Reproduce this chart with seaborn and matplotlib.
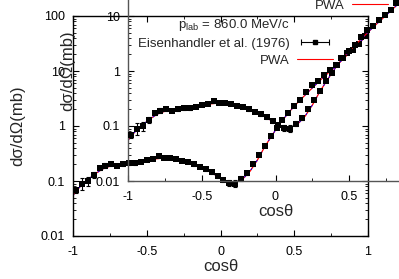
import numpy as np
import pandas as pd
import matplotlib
matplotlib.use("Agg")
import matplotlib.pyplot as plt
import seaborn as sns
from matplotlib.lines import Line2D
from matplotlib.legend_handler import HandlerLine2D, HandlerTuple
from matplotlib.ticker import LogLocator, MultipleLocator, NullFormatter

# Eisenhandler et al. (1976), p_lab = 860 MeV/c
exp_cos = [-0.98, -0.94, -0.90, -0.86, -0.82, -0.78, -0.74, -0.70, -0.66, -0.62,
           -0.58, -0.54, -0.50, -0.46, -0.42, -0.38, -0.34, -0.30, -0.26, -0.22,
           -0.18, -0.14, -0.10, -0.06, -0.02, 0.02, 0.06, 0.10, 0.14, 0.18,
           0.22, 0.26, 0.30, 0.34, 0.38, 0.42, 0.46, 0.50, 0.54, 0.58,
           0.62, 0.66, 0.70, 0.74, 0.78, 0.82, 0.86, 0.90, 0.94, 0.98]
exp_dsig = [0.068, 0.090, 0.100, 0.130, 0.170, 0.190, 0.200, 0.190, 0.200, 0.210,
            0.210, 0.225, 0.240, 0.250, 0.280, 0.265, 0.260, 0.250, 0.232, 0.220,
            0.200, 0.180, 0.165, 0.145, 0.122, 0.105, 0.093, 0.090, 0.110, 0.140,
            0.200, 0.300, 0.440, 0.650, 0.920, 1.30, 1.70, 2.30, 3.00, 4.20,
            5.50, 6.60, 8.30, 10.5, 13.0, 17.0, 21.0, 24.0, 31.0, 44.0]
exp_relerr = [0.12, 0.25, 0.20, 0.12, 0.08, 0.10, 0.06, 0.05, 0.05, 0.05,
              0.05, 0.05, 0.05, 0.05, 0.05, 0.05, 0.05, 0.05, 0.05, 0.05,
              0.05, 0.05, 0.06, 0.07, 0.08, 0.10, 0.12, 0.14, 0.10, 0.08,
              0.06, 0.05, 0.05, 0.04, 0.04, 0.04, 0.04, 0.04, 0.04, 0.04,
              0.04, 0.04, 0.04, 0.04, 0.04, 0.04, 0.04, 0.04, 0.04, 0.04]

# PWA curve
pwa_cos = [-1.00, -0.95, -0.90, -0.85, -0.80, -0.75, -0.70, -0.65, -0.60, -0.55,
           -0.50, -0.45, -0.40, -0.35, -0.30, -0.25, -0.20, -0.15, -0.10, -0.05,
           0.00, 0.05, 0.10, 0.15, 0.20, 0.25, 0.30, 0.35, 0.40, 0.45,
           0.50, 0.55, 0.60, 0.65, 0.70, 0.75, 0.80, 0.85, 0.90, 0.95, 1.00]
pwa_dsig = [0.055, 0.080, 0.105, 0.135, 0.165, 0.185, 0.198, 0.205, 0.212, 0.222,
            0.235, 0.250, 0.260, 0.258, 0.248, 0.232, 0.212, 0.188, 0.162, 0.136,
            0.113, 0.097, 0.093, 0.108, 0.150, 0.240, 0.420, 0.680, 1.08, 1.60,
            2.30, 3.15, 4.30, 5.80, 7.80, 10.3, 13.8, 18.5, 25.0, 34.0, 47.0]

exp = pd.DataFrame({"cos": exp_cos, "dsig": exp_dsig})
exp["err"] = exp["dsig"] * np.array(exp_relerr)
pwa = pd.DataFrame({"cos": pwa_cos, "dsig": pwa_dsig})

sns.set_theme(style="ticks")
plt.rcParams["font.family"] = ["Liberation Sans", "DejaVu Sans"]
plt.rcParams["mathtext.fontset"] = "custom"
plt.rcParams["mathtext.rm"] = "Liberation Sans"

W, H = 399, 279
fig = plt.figure(figsize=(W / 100, H / 100), dpi=100)
ax = fig.add_axes([73 / W, 43 / H, 295 / W, 220 / H])
ins = fig.add_axes([128 / W, 98 / H, 295 / W, 220 / H])
ins.patch.set_alpha(0)


def draw(a, frame_color):
    sns.lineplot(data=pwa, x="cos", y="dsig", ax=a, color="red", lw=0.9, zorder=1)
    sns.lineplot(data=pwa, x="cos", y="dsig", ax=a, color="blue", lw=0.7,
                 ls=(0, (2, 3)), zorder=1.5)
    a.errorbar(exp["cos"], exp["dsig"], yerr=exp["err"], fmt="none",
               ecolor="black", elinewidth=0.8, capsize=1.5, capthick=0.8, zorder=2)
    sns.scatterplot(data=exp, x="cos", y="dsig", ax=a, marker="s", s=14,
                    color="black", edgecolor="black", linewidth=0, zorder=3)
    a.set_yscale("log")
    a.set_xlim(-1, 1)
    a.set_ylim(0.01, 100)
    a.xaxis.set_major_locator(MultipleLocator(0.5))
    a.xaxis.set_minor_locator(MultipleLocator(0.25))
    a.yaxis.set_major_locator(LogLocator(base=10, numticks=10))
    a.yaxis.set_minor_locator(LogLocator(base=10, subs=np.arange(2, 10), numticks=10))
    a.yaxis.set_minor_formatter(NullFormatter())
    a.tick_params(which="both", direction="in", top=True, right=True,
                  labelsize=9, colors="black")
    a.tick_params(axis="x", pad=7)
    a.tick_params(axis="y", pad=6)
    a.tick_params(which="major", length=4, width=0.8)
    a.tick_params(which="minor", length=2, width=0.6)
    for s in a.spines.values():
        s.set_color(frame_color)
        s.set_linewidth(1.0)
    a.set_xlabel("cosθ", fontsize=12)
    a.set_ylabel("dσ/dΩ(mb)", fontsize=12)


draw(ax, "black")
draw(ins, "#555555")

for a in (ax, ins):
    a.set_xticks([-1, -0.5, 0, 0.5, 1])
    a.set_xticklabels(["-1", "-0.5", "0", "0.5", "1"])
    a.set_yticks([0.01, 0.1, 1, 10, 100])
    a.set_yticklabels(["0.01", "0.1", "1", "10", "100"])

ax.xaxis.set_label_coords(0.5, -0.105)
ax.yaxis.set_label_coords(-0.163, 0.5)
ins.xaxis.set_label_coords(0.5, -0.105)
ins.yaxis.set_label_coords(-0.178, 0.5)

# legend entries
title_h = Line2D([], [], ls="none")
bar_h = Line2D([], [], color="black", lw=0.8, marker="|", ms=4, mew=0.8)
pt_h = Line2D([], [], ls="none", color="black", marker="s", ms=2.8)
pwa_h = Line2D([], [], color="red", lw=0.8)
handles = [title_h, (bar_h, pt_h), pwa_h]
labels = [r"p$_\mathregular{lab}$ = 860.0 MeV/c", "Eisenhandler et al. (1976)", "PWA"]
hmap = {bar_h: HandlerLine2D(numpoints=2), pt_h: HandlerLine2D(numpoints=1),
        tuple: HandlerTuple(ndivide=1, pad=0)}
leg_kw = dict(handler_map=hmap, loc="upper right", frameon=False, markerfirst=False,
              fontsize=9.5, handlelength=2.7, handletextpad=0.6,
              labelspacing=0.35, borderpad=0, borderaxespad=0)

leg1 = ins.legend(handles, labels, bbox_to_anchor=(0.695, 0.745), **leg_kw)
ins.add_artist(leg1)
leg2 = ins.legend(handles, labels,
                  bbox_to_anchor=(0.695 + 55 / 295, 0.745 + 55 / 220), **leg_kw)

fig.savefig("out.png", dpi=100)
